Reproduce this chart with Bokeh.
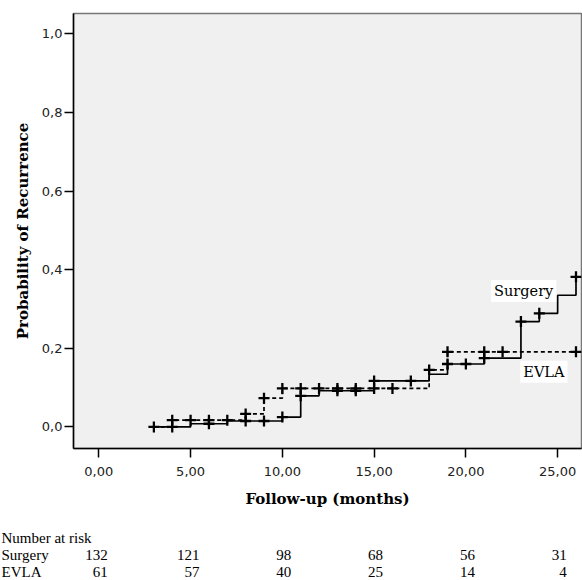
from bokeh.plotting import figure
from bokeh.models import Range1d, FixedTicker, Label, ColumnDataSource
from bokeh.layouts import column
from bokeh.embed import file_html
from bokeh.resources import INLINE
from bokeh.core.properties import value

# ---- data ----
surgery_t = [3, 5, 7, 10, 11, 12, 15, 18, 19, 21, 23, 24, 25, 26]
surgery_p = [0.0, 0.008, 0.015, 0.025, 0.079, 0.092, 0.117, 0.134, 0.160, 0.175, 0.268, 0.289, 0.335, 0.382]

evla_t = [3, 4, 8, 9, 10, 18, 19, 26.5]
evla_p = [0.0, 0.017, 0.033, 0.073, 0.098, 0.145, 0.191, 0.191]

surgery_cens_t = [3, 4, 6, 8, 9, 10, 11, 13, 14, 15, 17, 19, 20, 21, 23, 24, 26]
surgery_cens_p = [0.0, 0.0, 0.008, 0.015, 0.015, 0.025, 0.079, 0.092, 0.092, 0.117, 0.117,
                  0.160, 0.160, 0.175, 0.268, 0.289, 0.382]

evla_cens_t = [4, 5, 6, 7, 8, 9, 10, 11, 12, 13, 14, 15, 16, 18, 19, 21, 22, 26]
evla_cens_p = [0.017, 0.017, 0.017, 0.017, 0.033, 0.073, 0.098, 0.098, 0.098, 0.098, 0.098,
               0.098, 0.098, 0.145, 0.191, 0.191, 0.191, 0.191]

x_ticks = [0, 5, 10, 15, 20, 25]
x_tick_labels = ["0,00", "5,00", "10,00", "15,00", "20,00", "25,00"]
y_ticks = [0.0, 0.2, 0.4, 0.6, 0.8, 1.0]
y_tick_labels = ["0,0", "0,2", "0,4", "0,6", "0,8", "1,0"]

risk_times = [0, 5, 10, 15, 20, 25]
risk_surgery = [132, 121, 98, 68, 56, 31]
risk_evla = [61, 57, 40, 25, 14, 4]
group_names = ["Surgery", "EVLA"]
risk_title = "Number at risk"

# ---- layout constants ----
W = 582
X0, X1 = -1.38, 26.3
Y0, Y1 = -0.055, 1.052
LEFT, RIGHT = 73, 1

p = figure(width=W, height=515, output_backend="svg", toolbar_location=None,
           x_range=Range1d(X0, X1), y_range=Range1d(Y0, Y1),
           min_border_left=LEFT, min_border_right=RIGHT, min_border_top=13, min_border_bottom=67)
p.background_fill_color = "#f0f0f0"
p.border_fill_color = "white"
p.outline_line_color = "#777777"
p.outline_line_width = 1.5
p.grid.visible = False
p.frame_align = False

p.xaxis.ticker = FixedTicker(ticks=x_ticks)
p.xaxis.major_label_overrides = dict(zip(x_ticks, x_tick_labels))
p.yaxis.ticker = FixedTicker(ticks=y_ticks)
p.yaxis.major_label_overrides = dict(zip(y_ticks, y_tick_labels))
for ax in (p.xaxis, p.yaxis):
    ax.axis_line_color = "black"
    ax.axis_line_width = 1.5
    ax.major_tick_in = 0
    ax.major_tick_out = 9
    ax.major_tick_line_width = 1.5
    ax.minor_tick_line_color = None
    ax.major_label_text_font = "DejaVu Sans"
    ax.major_label_text_font_size = "13px"
    ax.major_label_text_color = "#222222"
    ax.axis_label_text_font = "DejaVu Serif"
    ax.axis_label_text_font_style = "bold"
    ax.axis_label_text_font_size = "15px"
    ax.axis_label_text_color = "black"
p.xaxis.axis_label = "Follow-up (months)"
p.yaxis.axis_label = "Probability of Recurrence"
p.xaxis.major_label_standoff = 9
p.xaxis.axis_label_standoff = 11
p.yaxis.major_label_standoff = 2
p.yaxis.axis_label_standoff = 7

# curves
p.step(surgery_t, surgery_p, mode="after", line_color="black", line_width=1.7)
p.step(evla_t, evla_p, mode="after", line_color="black", line_width=1.7, line_dash="4 3")
p.scatter(surgery_cens_t, surgery_cens_p, marker="cross", size=11, line_width=2.3, color="black")
p.scatter(evla_cens_t, evla_cens_p, marker="cross", size=11, line_width=2.3, color="black")

# in-plot labels
lab_kw = dict(text_font="DejaVu Serif", text_font_size="14.5px", text_color="black",
              background_fill_color="white", text_align="center", text_baseline="middle",
              padding=3)
p.add_layout(Label(x=23.15, y=0.346, text=group_names[0], **lab_kw))
p.add_layout(Label(x=24.25, y=0.14, text=group_names[1], **lab_kw))

# ---- number at risk table: frame spans the whole canvas, same x scale as the plot ----
ppu = (W - LEFT - RIGHT) / (X1 - X0)
tx0 = X0 - LEFT / ppu
tx1 = X1 + RIGHT / ppu
t = figure(width=W, height=65, output_backend="svg", toolbar_location=None,
           x_range=Range1d(tx0, tx1), y_range=Range1d(2.5, -1.35),
           min_border_left=0, min_border_right=0, min_border_top=0, min_border_bottom=0)
t.frame_align = False
t.axis.visible = False
t.grid.visible = False
t.outline_line_color = None
t.background_fill_color = "white"
t.border_fill_color = "white"

row_x = tx0 + 1 / ppu
tab_font = value("Liberation Serif")
t.text(x=[row_x, row_x, row_x], y=[0, 1, 2], text=[risk_title] + group_names,
       text_font=tab_font, text_font_size="15px",
       text_baseline="middle", text_align="left", text_color="black")

src = ColumnDataSource(dict(
    x=risk_times + risk_times,
    y=[1] * len(risk_times) + [2] * len(risk_times),
    txt=[str(v) for v in risk_surgery] + [str(v) for v in risk_evla],
))
t.text(x="x", y="y", text="txt", source=src, text_font=tab_font, text_font_size="15px",
       text_baseline="middle", text_align="right", x_offset=9, text_color="black")

layout = column(p, t, spacing=0)
open("out.html", "w").write(file_html(layout, INLINE))
